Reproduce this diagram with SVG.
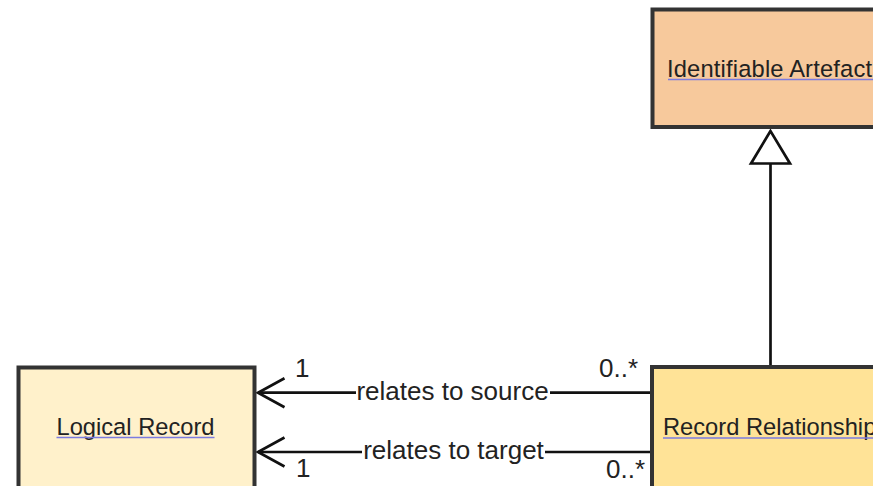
<svg xmlns="http://www.w3.org/2000/svg" width="873" height="486" viewBox="0 0 873 486">
  <style>
    .box { stroke: #333333; stroke-width: 4; }
    .ntext { font-family: "Liberation Sans", Arial, sans-serif; font-size: 23.7px; fill: #222222; }
    .ul { stroke: #7b7be0; stroke-width: 1.5; }
    .conn { stroke: #111111; stroke-width: 2.7; fill: none; }
    .ltext { font-family: "Liberation Sans", Arial, sans-serif; font-size: 26px; fill: #222222; }
  </style>
  <rect x="0" y="0" width="873" height="486" fill="#ffffff"/>
  <g id="connectors">
    <!-- generalization -->
    <line class="conn" x1="770.5" y1="367" x2="770.5" y2="163.5"/>
    <polygon points="770.5,131 751,163.5 790,163.5" fill="#ffffff" stroke="#111111" stroke-width="2.7" stroke-linejoin="miter"/>
    <!-- relates to source -->
    <line class="conn" x1="652" y1="392.7" x2="550" y2="392.7"/>
    <line class="conn" x1="356" y1="392.7" x2="258" y2="392.7"/>
    <polyline class="conn" points="284.5,378.3 258,392.7 284.5,407.2"/>
    <text class="ltext" x="452.5" y="399.5" text-anchor="middle">relates to source</text>
    <text class="ltext" x="295" y="376.5">1</text>
    <text class="ltext" x="599" y="377">0..*</text>
    <!-- relates to target -->
    <line class="conn" x1="652" y1="452" x2="545" y2="452"/>
    <line class="conn" x1="362" y1="452" x2="258" y2="452"/>
    <polyline class="conn" points="284.5,437.5 258,452 284.5,466.5"/>
    <text class="ltext" x="453.5" y="458.5" text-anchor="middle">relates to target</text>
    <text class="ltext" x="296" y="477">1</text>
    <text class="ltext" x="606" y="478">0..*</text>
  </g>
  <g id="identifiable-artefact">
    <rect class="box" x="652.5" y="9.5" width="260" height="117.5" fill="#f7c99c"/>
    <text class="ntext" x="667" y="76.5" textLength="205" lengthAdjust="spacing">Identifiable Artefact</text>
    <line class="ul" x1="668" y1="79.5" x2="873" y2="79.5"/>
  </g>
  <g id="logical-record">
    <rect class="box" x="18.5" y="367.5" width="236" height="140" fill="#fff1cb"/>
    <text class="ntext" x="135.5" y="434.5" text-anchor="middle">Logical Record</text>
    <line class="ul" x1="56.5" y1="437.5" x2="214.5" y2="437.5"/>
  </g>
  <g id="record-relationship">
    <rect class="box" x="652" y="367" width="260" height="140" fill="#ffe397"/>
    <text class="ntext" x="663" y="435">Record Relationship</text>
    <line class="ul" x1="663" y1="438" x2="873" y2="438"/>
  </g>
</svg>
